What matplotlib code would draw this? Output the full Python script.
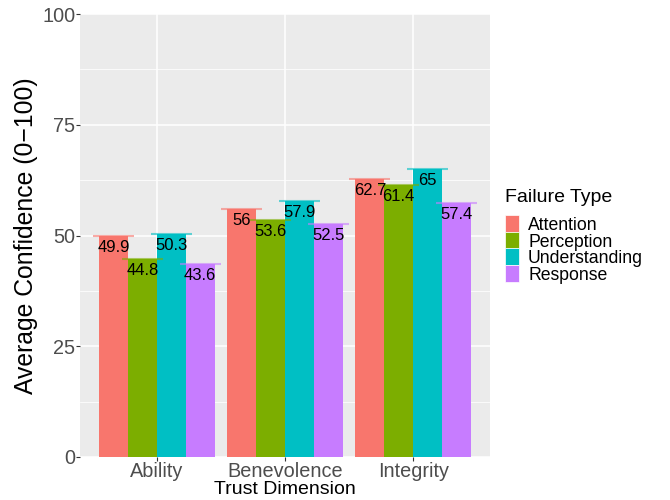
import matplotlib
matplotlib.use("Agg")
import matplotlib.pyplot as plt
import numpy as np
from matplotlib.patches import Rectangle

plt.rcParams['font.family'] = ['Liberation Sans', 'DejaVu Sans']

dimensions = ["Ability", "Benevolence", "Integrity"]
failure_types = ["Attention", "Perception", "Understanding", "Response"]
colors = ["#F8766D", "#7CAE00", "#00BFC4", "#C77CFF"]
values = {
    "Attention": [49.9, 56.0, 62.7],
    "Perception": [44.8, 53.6, 61.4],
    "Understanding": [50.3, 57.9, 65.0],
    "Response": [43.6, 52.5, 57.4],
}
labels = {
    "Attention": ["49.9", "56", "62.7"],
    "Perception": ["44.8", "53.6", "61.4"],
    "Understanding": ["50.3", "57.9", "65"],
    "Response": ["43.6", "52.5", "57.4"],
}
yticks = [0, 25, 50, 75, 100]

W, H = 670, 500
fig = plt.figure(figsize=(W/100, H/100), dpi=100)
ax = fig.add_axes([80/W, 1-457/H, 410/W, 443/H])
ax.set_facecolor("#EBEBEB")

x = np.arange(1, len(dimensions) + 1)
dodge = 0.9
n = len(failure_types)
bw = dodge / n
for i, ft in enumerate(failure_types):
    xs = x - dodge/2 + bw/2 + i*bw
    v = values[ft]
    ax.bar(xs, v, width=bw, color=colors[i], zorder=3)
    ax.hlines(v, xs - 0.16, xs + 0.16, colors=colors[i], alpha=0.6, lw=1.5, zorder=4)
    for xi, vi, lab in zip(xs, v, labels[ft]):
        ax.annotate(lab, (xi, vi), xytext=(0, -8.3), textcoords="offset points",
                    ha="center", va="center", fontsize=12, color="black", zorder=5)

ax.set_xlim(0.4, 3.6)
ax.set_ylim(0, 100)
ax.set_yticks(yticks)
ax.set_yticks([12.5, 37.5, 62.5, 87.5], minor=True)
ax.set_xticks(x)
ax.set_xticklabels(dimensions)
ax.grid(which="major", color="white", lw=1.1, zorder=0)
ax.grid(which="minor", axis="y", color="white", lw=0.55, zorder=0)
ax.set_axisbelow(True)
for s in ax.spines.values():
    s.set_visible(False)
ax.tick_params(axis="both", which="major", colors="#333333", length=2.75, width=0.8,
               labelsize=14.3, labelcolor="#4D4D4D")
ax.tick_params(axis="y", which="major", pad=0.5)
ax.tick_params(axis="x", which="major", pad=0.8)
ax.tick_params(axis="y", which="minor", length=0)
ax.set_xlabel("Trust Dimension", fontsize=14, labelpad=0)
ax.set_ylabel("Average Confidence (0\u2212100)", fontsize=17.8, labelpad=3)

# legend drawn manually (ggplot style)
fig.text(505/W, 1-197/H, "Failure Type", fontsize=14, ha="left", va="center")
key_top = 215
key_h = 16.7
for i, (ft, c) in enumerate(zip(failure_types, colors)):
    y0 = key_top + i*key_h
    fig.patches.append(Rectangle((505/W, 1-(y0+key_h)/H), 14/W, key_h/H,
                                 transform=fig.transFigure, facecolor=c,
                                 edgecolor="white", lw=0.5))
    fig.text(528/W, 1-(y0+key_h/2)/H, ft, fontsize=12.7, ha="left", va="center_baseline")

fig.savefig("out.png", dpi=100)
